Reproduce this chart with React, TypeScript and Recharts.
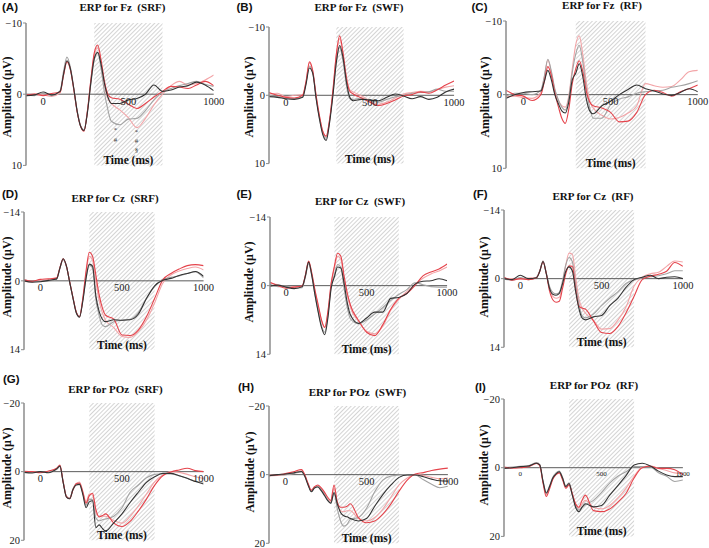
import React from "react";
import { LineChart, Line, XAxis, YAxis, ReferenceLine, ReferenceArea, ReferenceDot } from "recharts";

// sample times (ms) shared by every trace
const TIMES = [-100, -50, 0, 50, 100, 120, 140, 160, 180, 200, 220, 240, 260, 280, 300, 320, 340, 360, 380, 400, 450, 500, 550, 600, 650, 700, 750, 800, 850, 900, 950, 1000];
const X_TICKS = [0, 500, 1000];
const WINDOW_START = 300;
const WINDOW_END = 700;

// Fz (uV, positive = down)
const fzSrfBlack = [0.2, 0.1, -0.3, 0.1, -0.4, -2.8, -4.7, -3.6, -0.8, 2.4, 4.5, 5.1, 2.6, -1.6, -5.0, -5.9, -4.2, -1.5, 0.4, 1.3, 1.3, 0.8, 0.6, 0.0, -1.3, -0.4, -0.6, -1.0, -1.2, -1.7, -1.3, -0.5];
const fzSrfGray = [0.1, 0.2, -0.1, 0.2, -0.5, -3.2, -5.2, -3.8, -0.9, 2.3, 4.4, 5.0, 2.4, -1.4, -4.8, -5.8, -3.6, -0.2, 2.2, 3.8, 4.3, 3.5, 3.4, 2.3, 0.8, -0.3, -0.8, -1.2, -1.5, -1.8, -1.4, -1.1];
const fzSrfRed = [0.1, 0.0, 0.2, -0.1, -0.3, -2.7, -4.6, -3.5, -0.7, 2.5, 4.5, 5.2, 2.4, -2.0, -5.8, -6.9, -4.8, -1.8, 0.0, 0.5, 0.7, 1.4, 2.0, 1.3, 0.4, -0.4, -1.1, -1.0, -0.8, -1.3, -1.8, -1.2];
const fzSrfPink = [0.3, -0.1, 0.1, 0.3, -0.2, -2.6, -4.5, -3.4, -0.6, 2.5, 4.5, 5.1, 2.3, -1.9, -5.5, -6.5, -4.5, -1.2, 0.6, 1.3, 2.2, 3.3, 4.7, 3.4, 1.5, 0.0, -1.2, -1.8, -1.3, -1.5, -2.0, -2.7];

const fzSwfBlack = [0.2, 0.3, 0.5, 0.6, 0.3, -1.6, -4.0, -3.2, 0.5, 3.5, 5.8, 6.6, 4.0, 0.0, -4.8, -7.3, -5.5, -2.0, 0.3, 0.8, 0.6, 0.7, 0.8, 0.3, -0.2, 0.1, 0.5, 0.2, 0.6, 0.3, -0.5, -0.9];
const fzSwfGray = [0.0, 0.2, 0.4, 0.5, 0.2, -1.8, -4.3, -3.3, 0.3, 3.4, 5.6, 6.3, 3.8, -0.2, -4.8, -7.0, -5.0, -1.5, 0.5, 0.6, 0.4, 0.8, 1.0, 0.6, 0.2, 0.0, -0.3, -0.4, -0.5, -0.9, -0.6, -0.6];
const fzSwfRed = [-0.4, 0.0, 0.3, 0.4, 0.0, -2.0, -4.9, -3.6, 0.0, 3.0, 5.3, 6.0, 3.6, -0.8, -6.0, -8.7, -6.2, -2.5, -0.6, -0.2, 0.4, 1.0, 1.5, 1.2, 0.7, 0.1, -0.1, -0.5, -0.3, -0.8, -1.5, -2.1];
const fzSwfPink = [-0.2, -0.3, 0.2, 0.0, -0.1, -2.0, -4.7, -3.5, 0.1, 3.1, 5.3, 6.0, 3.6, -0.6, -5.8, -8.3, -6.0, -2.8, -0.8, -0.5, 0.1, 0.8, 1.3, 1.0, 0.4, -0.2, -0.4, -0.6, -0.5, -0.8, -1.2, -1.4];

const fzRfBlack = [0.5, 0.0, -0.3, -0.4, -0.5, -1.8, -3.3, -2.0, 0.0, 1.2, 2.2, 2.5, 1.0, -2.0, -2.9, -4.2, -2.5, 0.5, 2.2, 2.6, 1.5, 0.9, 0.0, -0.7, -1.3, -0.8, -0.5, -0.1, 0.1, -0.3, -0.8, -0.4];
const fzRfGray = [0.2, -0.2, -0.2, 0.0, -0.6, -2.5, -4.8, -3.2, -0.8, 0.7, 1.7, 2.1, 0.5, -3.0, -5.5, -6.7, -4.5, -1.0, 1.8, 3.2, 3.2, 1.4, 0.6, 0.3, -0.2, -0.4, -0.5, -0.6, -1.0, -1.2, -1.5, -1.9];
const fzRfRed = [-0.6, 0.0, 0.2, 0.8, 0.0, -1.8, -3.8, -2.6, -0.2, 1.6, 3.2, 3.9, 2.0, -1.5, -3.5, -4.6, -3.2, -0.5, 1.0, 1.5, 1.8, 2.4, 3.7, 3.6, 2.4, 0.0, -0.6, -0.3, 0.2, -0.4, -0.8, -1.3];
const fzRfPink = [0.3, 0.2, 0.4, 0.5, -0.3, -2.4, -4.7, -3.0, -0.6, 0.8, 1.5, 1.7, 0.2, -3.5, -6.8, -8.0, -5.5, -1.8, 0.8, 1.8, 2.8, 3.3, 3.1, 2.5, 1.5, -1.5, -1.2, -1.0, -1.1, -2.0, -3.1, -3.3];

// Cz
const czSrfBlack = [0.0, 0.3, 0.2, -0.1, -0.4, -2.6, -4.5, -3.0, 0.3, 3.5, 6.5, 7.4, 4.2, -0.5, -3.4, -3.0, 3.0, 6.2, 7.8, 8.3, 7.9, 8.0, 7.9, 6.8, 3.6, 1.0, -0.1, -0.5, -1.1, -1.5, -1.9, -0.9];
const czSrfGray = [-0.2, 0.1, 0.1, 0.0, -0.3, -2.6, -4.3, -2.9, 0.3, 3.5, 6.4, 7.3, 4.0, -0.5, -3.2, -2.6, 3.8, 7.0, 9.0, 9.3, 8.3, 8.0, 7.8, 6.5, 3.5, 1.2, -0.3, -0.7, -1.0, -1.5, -1.8, -0.6];
const czSrfRed = [-0.2, 0.1, -0.3, -0.4, -0.6, -2.7, -4.5, -3.0, 0.2, 3.4, 6.3, 7.3, 3.6, -2.0, -5.8, -5.0, -1.2, 2.8, 5.5, 7.0, 7.8, 11.0, 11.1, 10.0, 7.3, 3.6, -0.2, -1.5, -2.4, -3.1, -3.3, -3.1];
const czSrfPink = [0.1, 0.2, -0.1, -0.2, -0.5, -2.6, -4.4, -2.9, 0.3, 3.4, 6.3, 7.2, 3.8, -1.5, -5.0, -4.2, 0.0, 4.0, 6.5, 8.0, 9.5, 11.3, 11.5, 10.3, 8.0, 4.5, 0.5, -1.2, -2.0, -2.5, -2.8, -2.2];

const czSwfBlack = [0.1, -0.1, 0.3, 0.6, 0.2, -2.0, -4.8, -2.0, 2.0, 5.5, 8.5, 10.0, 6.5, 0.5, -1.8, -3.8, -3.6, -0.5, 3.5, 6.0, 7.7, 6.6, 5.4, 5.4, 2.6, 2.4, 1.6, -0.3, -0.9, -1.0, -1.4, -1.0];
const czSwfGray = [-0.3, 0.2, 0.1, 0.5, 0.4, -1.8, -4.5, -1.9, 2.0, 5.3, 8.2, 9.5, 6.0, 0.2, -2.2, -4.3, -3.8, 0.5, 4.5, 6.8, 7.8, 7.0, 5.8, 4.5, 3.0, 1.8, 0.8, -0.6, -0.2, 0.2, 0.3, 0.3];
const czSwfRed = [-0.7, 0.0, 0.5, 0.3, 0.0, -2.2, -5.0, -2.5, 1.0, 4.0, 7.0, 8.5, 5.2, -0.5, -4.0, -6.6, -6.0, -2.0, 1.5, 4.0, 7.1, 9.5, 10.2, 8.0, 4.8, 2.6, 1.6, 0.0, -2.0, -2.8, -3.4, -4.4];
const czSwfPink = [-0.5, -0.2, 0.3, 0.2, 0.2, -2.1, -4.9, -2.3, 1.2, 4.2, 7.2, 8.6, 5.4, -0.3, -3.6, -6.0, -5.4, -1.5, 2.0, 4.5, 7.3, 9.3, 9.8, 8.3, 5.0, 2.8, 1.2, -0.2, -1.5, -2.4, -3.0, -3.8];

const czRfBlack = [0.0, 0.2, -0.7, 0.0, -0.2, -1.5, -3.5, -1.0, 2.0, 3.2, 3.4, 3.0, 1.0, -1.5, -2.4, -1.6, 2.5, 6.0, 8.0, 8.4, 7.8, 7.5, 5.5, 4.0, 1.8, 0.2, -0.3, -0.7, 0.0, -0.3, -0.4, 0.0];
const czRfGray = [0.1, 0.3, -0.2, 0.2, -0.3, -1.6, -3.6, -1.2, 1.6, 2.8, 3.1, 2.8, 0.4, -2.8, -4.3, -3.5, 1.0, 5.0, 7.6, 8.0, 7.2, 5.5, 4.0, 2.7, 1.0, 0.3, -0.2, -0.4, -0.6, -1.0, -1.6, -1.6];
const czRfRed = [-0.3, 0.3, 0.0, 0.2, -0.2, -1.5, -3.4, -1.0, 2.5, 4.3, 4.8, 4.6, 2.0, -1.0, -2.6, -2.5, 2.0, 5.6, 6.0, 6.2, 8.6, 11.0, 11.2, 9.8, 7.0, 3.6, 0.2, -0.5, -0.9, -1.5, -3.3, -2.5];
const czRfPink = [0.0, 0.0, 0.1, -0.1, -0.3, -1.6, -3.6, -1.1, 2.0, 3.6, 4.0, 3.8, 1.0, -2.8, -5.2, -5.0, -0.5, 4.0, 6.0, 7.0, 8.5, 10.3, 10.2, 8.5, 5.8, 1.5, -0.3, -1.0, -1.3, -2.5, -3.6, -3.4];

// POz
const pozSrfBlack = [0.2, 0.4, 0.0, 0.3, -0.8, -1.6, 3.2, 7.4, 7.9, 5.2, 3.9, 3.7, 6.6, 10.5, 8.8, 8.5, 16.3, 15.5, 16.5, 17.3, 14.9, 12.3, 9.0, 6.0, 3.1, 1.5, 0.5, 0.5, 1.2, 1.9, 2.9, 3.6];
const pozSrfGray = [0.1, 0.2, 0.2, 0.1, -0.6, -1.5, 3.0, 7.2, 7.7, 5.0, 3.6, 3.5, 6.2, 9.8, 8.0, 8.2, 13.5, 14.3, 14.0, 13.8, 13.0, 10.5, 6.0, 3.9, 1.8, 0.8, 0.6, 0.7, 1.2, 2.0, 2.8, 3.1];
const pozSrfRed = [-0.1, 0.0, 0.3, -0.2, -1.0, -1.9, 3.0, 7.3, 7.9, 5.3, 3.5, 3.3, 6.0, 9.2, 7.0, 6.3, 11.0, 13.2, 12.8, 12.3, 15.0, 16.0, 14.5, 11.5, 8.0, 4.0, 1.2, 0.1, -0.5, -1.0, -0.3, 0.0];
const pozSrfPink = [0.0, 0.1, 0.2, 0.0, -0.9, -1.7, 3.1, 7.2, 7.6, 5.2, 3.4, 3.0, 5.6, 8.8, 6.5, 6.8, 12.0, 13.0, 13.0, 13.0, 14.2, 15.0, 13.0, 10.0, 6.5, 3.0, 1.0, 0.0, 0.2, 0.8, 1.5, 2.0];

const pozSwfBlack = [0.3, 0.0, -0.2, -0.5, -0.9, 0.5, 3.0, 5.0, 3.9, 3.6, 4.6, 6.0, 7.5, 8.3, 5.2, 8.5, 11.0, 12.0, 12.3, 12.8, 13.5, 12.8, 9.2, 5.8, 3.0, 0.8, 0.1, 0.1, 0.6, 1.3, 1.8, 1.9];
const pozSwfGray = [0.0, 0.2, 0.0, -0.3, -0.8, 0.4, 2.8, 4.8, 3.7, 3.4, 4.3, 5.7, 7.3, 8.4, 5.5, 10.0, 13.5, 15.0, 14.5, 13.0, 12.5, 9.8, 5.0, 1.6, 0.4, 0.1, 0.0, 0.1, 1.5, 2.8, 3.8, 3.4];
const pozSwfRed = [0.2, 0.1, -0.3, -0.8, -1.5, 0.0, 2.5, 4.5, 3.5, 3.0, 3.8, 5.0, 6.5, 7.5, 3.0, 8.0, 9.5, 9.5, 9.2, 8.5, 12.5, 14.0, 13.5, 11.5, 8.5, 4.8, 1.6, -0.2, -0.6, -1.2, -1.6, -1.9];
const pozSwfPink = [0.4, 0.2, 0.0, -0.4, -1.2, 0.2, 2.7, 4.7, 3.6, 3.3, 4.2, 5.5, 7.0, 7.9, 4.0, 8.5, 10.5, 10.8, 10.5, 10.5, 12.8, 13.5, 12.5, 10.0, 6.5, 3.0, 1.0, 0.0, 0.2, 0.8, 1.2, 1.0];

const pozRfBlack = [0.2, 0.0, -0.3, -0.5, -1.3, -0.8, 4.0, 7.4, 5.5, 3.0, 1.8, 1.2, 3.0, 5.5, 4.6, 8.0, 11.5, 12.8, 11.5, 10.5, 11.4, 11.0, 8.0, 5.2, 2.3, -0.8, -1.3, -0.5, 1.0, 2.1, 2.6, 2.6];
const pozRfGray = [0.0, -0.2, -0.4, -0.6, -1.5, -0.9, 3.8, 7.2, 5.3, 2.8, 1.5, 1.0, 2.8, 5.3, 4.4, 7.8, 11.0, 12.3, 11.5, 10.8, 9.5, 7.2, 4.5, 2.5, 1.2, -0.3, -0.3, -0.2, 1.5, 2.5, 4.0, 3.6];
const pozRfRed = [-0.2, 0.1, 0.0, -0.3, -1.2, -0.6, 4.5, 8.4, 6.2, 3.4, 2.0, 1.5, 3.5, 6.0, 5.0, 7.5, 10.5, 11.5, 9.5, 8.0, 12.5, 12.8, 12.0, 10.0, 7.5, 3.0, 0.0, -0.4, 0.2, 0.2, 0.6, 2.1];
const pozRfPink = [0.1, 0.2, -0.2, -0.4, -1.4, -0.7, 4.2, 7.9, 5.8, 3.2, 1.9, 1.3, 3.2, 5.7, 4.8, 7.8, 10.5, 11.8, 10.5, 9.5, 11.5, 12.0, 11.0, 8.8, 6.0, 2.5, -0.2, -0.5, 0.2, 0.8, 1.5, 1.7];

// significance marks under the Fz (SRF) troughs
const markTimes = [424, 424, 547, 547, 547];
const markValues = [4.9, 6.3, 5.2, 6.5, 7.7];
const markSymbols = ["*", "#", "*", "#", "§"];

const SERIF = "'Liberation Serif', 'Times New Roman', serif";
const SANS = "'Liberation Sans', Arial, sans-serif";
const COLORS = { pink: "#f3a5a8", gray: "#a3a3a3", red: "#e5434b", black: "#333333" };

type PanelDef = {
  id: string;
  title: string;
  limit: number;
  traces: { black: number[]; gray: number[]; red: number[]; pink: number[] };
  box: { left: number; right: number; top: number; bottom: number };
  titleAt: [number, number];
  letterAt: [number, number];
  labelAt: [number, number];
  xTickFont?: number;
  marks?: boolean;
};

const panels: PanelDef[] = [
  { id: "A", title: "ERP for Fz  (SRF)", limit: 10, traces: { black: fzSrfBlack, gray: fzSrfGray, red: fzSrfRed, pink: fzSrfPink }, box: { left: 25.6, right: 213.3, top: 23.3, bottom: 165.7 }, titleAt: [122.5, 7], letterAt: [2, 7], labelAt: [7, 97], marks: true },
  { id: "B", title: "ERP for Fz  (SWF)", limit: 10, traces: { black: fzSwfBlack, gray: fzSwfGray, red: fzSwfRed, pink: fzSwfPink }, box: { left: 268.9, right: 454, top: 26.7, bottom: 163.3 }, titleAt: [359, 7], letterAt: [236.5, 7], labelAt: [249, 97] },
  { id: "C", title: "ERP for Fz  (RF)", limit: 10, traces: { black: fzRfBlack, gray: fzRfGray, red: fzRfRed, pink: fzRfPink }, box: { left: 505.9, right: 697.7, top: 21, bottom: 168.3 }, titleAt: [602, 5], letterAt: [471.5, 6.5], labelAt: [485, 97] },
  { id: "D", title: "ERP for Cz  (SRF)", limit: 14, traces: { black: czSrfBlack, gray: czSrfGray, red: czSrfRed, pink: czSrfPink }, box: { left: 24.4, right: 204, top: 212.3, bottom: 350 }, titleAt: [115, 198], letterAt: [2, 194], labelAt: [7, 277] },
  { id: "E", title: "ERP for Cz  (SWF)", limit: 14, traces: { black: czSwfBlack, gray: czSwfGray, red: czSwfRed, pink: czSwfPink }, box: { left: 269.6, right: 446.7, top: 216.7, bottom: 354 }, titleAt: [360, 201], letterAt: [236.5, 194], labelAt: [249, 282] },
  { id: "F", title: "ERP for Cz  (RF)", limit: 14, traces: { black: czRfBlack, gray: czRfGray, red: czRfRed, pink: czRfPink }, box: { left: 504.4, right: 683.3, top: 210, bottom: 347.3 }, titleAt: [593, 196], letterAt: [473, 194], labelAt: [484, 277] },
  { id: "G", title: "ERP for POz  (SRF)", limit: 20, traces: { black: pozSrfBlack, gray: pozSrfGray, red: pozSrfRed, pink: pozSrfPink }, box: { left: 24.4, right: 204, top: 402.7, bottom: 540 }, titleAt: [115.5, 389], letterAt: [3, 379], labelAt: [7, 468] },
  { id: "H", title: "ERP for POz  (SWF)", limit: 20, traces: { black: pozSwfBlack, gray: pozSwfGray, red: pozSwfRed, pink: pozSwfPink }, box: { left: 269.4, right: 448.3, top: 406, bottom: 543.3 }, titleAt: [357.5, 392], letterAt: [238, 387], labelAt: [250, 472] },
  { id: "I", title: "ERP for POz  (RF)", limit: 20, traces: { black: pozRfBlack, gray: pozRfGray, red: pozRfRed, pink: pozRfPink }, box: { left: 504.4, right: 683.3, top: 399.3, bottom: 536.7 }, titleAt: [594, 385], letterAt: [475, 387], labelAt: [484, 465], xTickFont: 7 },
];

const AXIS_W = 30;
const MARGIN = { top: 20, right: 18, bottom: 12, left: 0 };

const formatAmp = (v: number) => (v < 0 ? `\u2212${Math.abs(v)}` : String(v));

function Panel({ p }: { p: PanelDef }) {
  const plotW = p.box.right - p.box.left;
  const plotH = p.box.bottom - p.box.top;
  const rows = TIMES.map((t, i) => ({
    t,
    black: p.traces.black[i],
    gray: p.traces.gray[i],
    red: p.traces.red[i],
    pink: p.traces.pink[i],
  }));
  const hatchId = `hatch${p.id}`;

  return (
    <>
      <div style={{ position: "absolute", left: p.box.left - AXIS_W, top: p.box.top - MARGIN.top }}>
        <LineChart width={AXIS_W + plotW + MARGIN.right} height={MARGIN.top + plotH + MARGIN.bottom} data={rows} margin={MARGIN}>
          <defs>
            <pattern id={hatchId} width={3} height={3} patternUnits="userSpaceOnUse" patternTransform="rotate(45)">
              <rect width={3} height={3} fill="#ffffff" />
              <line x1={0} y1={0} x2={0} y2={3} stroke="#a9a9a9" strokeWidth={1} />
            </pattern>
          </defs>
          <XAxis type="number" dataKey="t" domain={[-100, 1000]} hide allowDataOverflow />
          <YAxis
            type="number"
            domain={[-p.limit, p.limit]}
            ticks={[-p.limit, 0, p.limit]}
            interval={0}
            reversed
            width={AXIS_W}
            allowDataOverflow
            tickFormatter={formatAmp}
            axisLine={{ stroke: "#8c8c8c", strokeWidth: 1.5 }}
            tickLine={{ stroke: "#8c8c8c" }}
            tickSize={3}
            tickMargin={1}
            tick={{ fontSize: 10.5, fill: "#222", fontFamily: SERIF }}
          />
          <ReferenceArea
            x1={WINDOW_START}
            x2={WINDOW_END}
            fill={`url(#${hatchId})`}
            fillOpacity={1}
            stroke="none"
            label={{ value: "Time (ms)", position: "insideBottom", offset: 1, fontSize: 11.5, fontWeight: 700, fill: "#111", fontFamily: SERIF }}
          />
          <ReferenceLine y={0} stroke="#5a5a5a" strokeWidth={1} />
          {X_TICKS.map((t) => (
            <ReferenceDot
              key={t}
              x={t}
              y={0}
              r={0}
              fill="none"
              stroke="none"
              label={{ value: String(t), position: "bottom", offset: 3, fontSize: p.xTickFont ?? 10.5, fill: "#222", fontFamily: SERIF }}
            />
          ))}
          {p.marks &&
            markSymbols.map((s, i) => (
              <ReferenceDot
                key={`m${i}`}
                x={markTimes[i]}
                y={markValues[i]}
                r={0}
                fill="none"
                stroke="none"
                label={{ value: s, position: "center", fontSize: 7, fill: "#333", fontFamily: SERIF }}
              />
            ))}
          <Line type="monotone" dataKey="pink" stroke={COLORS.pink} strokeWidth={1.1} dot={false} isAnimationActive={false} />
          <Line type="monotone" dataKey="gray" stroke={COLORS.gray} strokeWidth={1.1} dot={false} isAnimationActive={false} />
          <Line type="monotone" dataKey="red" stroke={COLORS.red} strokeWidth={1.1} dot={false} isAnimationActive={false} />
          <Line type="monotone" dataKey="black" stroke={COLORS.black} strokeWidth={1.1} dot={false} isAnimationActive={false} />
        </LineChart>
      </div>
      <div
        style={{
          position: "absolute",
          left: p.titleAt[0],
          top: p.titleAt[1],
          transform: "translate(-50%, -50%)",
          whiteSpace: "pre",
          fontFamily: SERIF,
          fontWeight: 700,
          fontSize: 11,
          color: "#111",
        }}
      >
        {p.title}
      </div>
      <div
        style={{
          position: "absolute",
          left: p.letterAt[0],
          top: p.letterAt[1],
          transform: "translateY(-50%)",
          fontFamily: SANS,
          fontWeight: 700,
          fontSize: 11.5,
          color: "#111",
        }}
      >
        {`(${p.id})`}
      </div>
      <div
        style={{
          position: "absolute",
          left: p.labelAt[0],
          top: p.labelAt[1],
          transform: "translate(-50%, -50%) rotate(-90deg)",
          whiteSpace: "nowrap",
          fontFamily: SERIF,
          fontWeight: 700,
          fontSize: 12,
          color: "#111",
        }}
      >
        Amplitude (μV)
      </div>
    </>
  );
}

export default function App() {
  return (
    <div style={{ position: "absolute", left: 0, top: 0, width: 709, height: 548, background: "#fff", overflow: "hidden" }}>
      {panels.map((p) => (
        <Panel key={p.id} p={p} />
      ))}
    </div>
  );
}
